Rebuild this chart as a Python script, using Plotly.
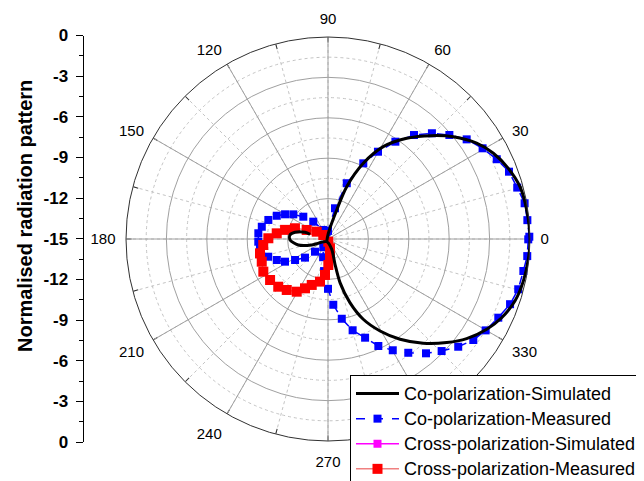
import plotly.graph_objects as go

# ---------------- data ----------------
# Co-polarization simulated (black line), traced in drawing order
co_sim_theta = [165.4, 163.8, 168.5, 174, 181.5, 191.4, 200.2, 244, 290, 285.5, 285.4, 289,
                293.7, 299.5, 305.7, 312.4, 318.9, 324.3, 330.4, 335.6, 341.7, 347.9, 354.2, 360,
                8.3, 15.2, 21.4, 27.4, 32.8, 39.2, 44.9, 52, 59.1, 65, 70.3, 73.3, 87, 244]
co_sim_r = [-13.62, -13.22, -12.5, -12.16, -12.18, -12.75, -13.71, -14.78, -14.2, -13.05, -11.64, -10.0,
            -8.49, -7.15, -5.83, -4.51, -3.3, -2.32, -1.44, -0.84, -0.37, -0.16, -0.05, 0.0,
            -0.09, -0.22, -0.62, -1.17, -1.87, -2.99, -4.13, -5.51, -7.01, -8.8, -10.88, -12.75, -14.58, -14.78]

# Co-polarization measured (blue squares, dashed)
co_meas_theta = [0.65, 5.4, 10.3, 15.2, 20.4, 25.3, 30.4, 35.7, 40.6, 45.5, 50.4, 55.3, 60.2, 65,
                 71.4, 77.2, 90, 103, 117.6, 130.4, 137.9, 144.6, 150.1, 155.6, 162.3, 169.5, 175.3,
                 182.2, 187.8, 196.5, 202.3, 207.8, 212.5, 219, 224.3, 240, 255, 263, 270, 274.6,
                 279.8, 285.1, 290.6, 295.2, 300.2, 305.2, 310.6, 315.4, 320.4, 325.2, 329.9, 335.2,
                 340.3, 345.2, 350.7, 355.1, 359.9]
co_meas_r = [-0.05, -0.13, -0.16, -0.44, -0.66, -1.14, -1.69, -2.32, -3.13, -3.99, -4.98, -6.21, -7.53, -8.8,
             -10.63, -12.66, -14.4, -14.5, -14.24, -13.31, -12.53, -11.84, -11.32, -10.82, -10.35, -10.0, -9.81,
             -9.82, -9.9, -10.37, -10.89, -11.39, -12.1, -12.8, -13.65, -14.3, -13.6, -12.6, -11.3, -10.1,
             -8.99, -7.98, -7.17, -6.22, -5.44, -4.66, -3.82, -3.15, -2.45, -1.86, -1.47, -1.07,
             -0.64, -0.39, -0.3, -0.15, -0.13]

# Cross-polarization simulated (nothing of it is visible inside the plotted range)
cross_sim_theta = [None]
cross_sim_r = [None]

# Cross-polarization measured (red squares)
cross_meas_theta = [139.6, 147, 157, 162, 168, 173.7, 179.3, 185.3, 191.9, 198.9, 206.8, 215.3, 223.8,
                    231, 239.3, 245, 250.5, 259.4, 265.2, 270.7, 276.4, 282, 276]
cross_meas_r = [-14.54, -14.0, -13.28, -12.42, -11.74, -11.17, -10.57, -10.17, -9.84, -9.8, -9.62, -9.73, -9.88,
                -10.13, -10.45, -10.96, -11.38, -11.78, -12.32, -13.07, -13.68, -14.3, -14.8]

series_names = ["Co-polarization-Simulated", "Co-polarization-Measured",
                "Cross-polarization-Simulated", "Cross-polarization-Measured"]

angle_ticks = [0, 30, 60, 90, 120, 150, 180, 210, 240, 270, 300, 330]
angle_labels = [str(a) for a in angle_ticks]
minor_angle_ticks = list(range(0, 360, 15))
radial_major = [-12, -9, -6, -3]
radial_minor = [-13.5, -10.5, -7.5, -4.5, -1.5]
left_tick_vals = [0, 1, 2, 3, 4, 5, 6, 7, 8, 9, 10]
left_tick_text = ["0", "-3", "-6", "-9", "-12", "-15", "-12", "-9", "-6", "-3", "0"]

# ---------------- figure ----------------
# the page body adds an 8 px offset; the figure is sized to fill the rest of the window
OFF = 8
W, H = 644 - OFF, 481 - OFF


def fx(x):  # screen x -> paper fraction
    return (x - OFF) / W


def fy(y):  # screen y -> paper fraction
    return 1 - (y - OFF) / H


cx, cy, R = 328, 239, 202
pdom_x = [fx(cx - R), fx(cx + R)]
pdom_y = [fy(cy + R), fy(cy - R)]


def big(name):
    return '<span style="font-size:18px">' + name + '</span>'


fig = go.Figure()

# helper so the minor-grid polar subplot exists (no data)
fig.add_trace(go.Scatterpolar(r=[], theta=[], subplot="polar", showlegend=False, hoverinfo="skip"))

fig.add_trace(go.Scatterpolar(
    r=co_meas_r, theta=co_meas_theta, subplot="polar2", name=big(series_names[1]),
    mode="lines+markers", line=dict(color="#0000ff", width=1.5, dash="dash"),
    marker=dict(symbol="square", size=8, color="#0000ff"), legendrank=2))

fig.add_trace(go.Scatterpolar(
    r=cross_sim_r, theta=cross_sim_theta, subplot="polar2", name=big(series_names[2]),
    mode="lines+markers", line=dict(color="#ff00ff", width=1.5),
    marker=dict(symbol="square", size=8, color="#ff00ff"), legendrank=3))

fig.add_trace(go.Scatterpolar(
    r=cross_meas_r, theta=cross_meas_theta, subplot="polar2", name=big(series_names[3]),
    mode="lines+markers", line=dict(color="#f08080", width=1.5),
    marker=dict(symbol="square", size=10, color="#ff0000"), legendrank=4))

fig.add_trace(go.Scatterpolar(
    r=co_sim_r, theta=co_sim_theta, subplot="polar2", name=big(series_names[0]),
    mode="lines", line=dict(color="#000000", width=3, shape="spline", smoothing=0.8), legendrank=1))

# dummy cartesian trace for the left scale axis
fig.add_trace(go.Scatter(x=[], y=[], xaxis="x", yaxis="y", showlegend=False, hoverinfo="skip"))

fig.update_layout(
    width=W, height=H,
    margin=dict(l=0, r=0, t=0, b=0, autoexpand=False),
    paper_bgcolor="white", plot_bgcolor="rgba(0,0,0,0)",
    font=dict(family="Arial, Liberation Sans, sans-serif", color="black"),
    polar=dict(
        domain=dict(x=pdom_x, y=pdom_y),
        bgcolor="white",
        radialaxis=dict(range=[-15, 0], tickvals=radial_minor, showticklabels=False, ticks="",
                        showline=False, gridcolor="#c4c4c4", griddash="dot", gridwidth=1),
        angularaxis=dict(rotation=0, direction="counterclockwise", tickvals=minor_angle_ticks,
                         showticklabels=False, ticks="inside", ticklen=5, tickcolor="#303030",
                         gridcolor="#c4c4c4", griddash="dot", gridwidth=1, showline=False),
    ),
    polar2=dict(
        domain=dict(x=pdom_x, y=pdom_y),
        bgcolor="rgba(0,0,0,0)",
        radialaxis=dict(range=[-15, 0], tickvals=radial_major, showticklabels=False, ticks="",
                        showline=False, gridcolor="#a0a0a0", gridwidth=1),
        angularaxis=dict(rotation=0, direction="counterclockwise", tickvals=angle_ticks,
                         ticktext=angle_labels, ticks="outside", ticklen=7,
                         tickcolor="rgba(0,0,0,0)", tickfont=dict(size=15, color="black"),
                         gridcolor="#a0a0a0", gridwidth=1, showline=True, linecolor="#303030",
                         linewidth=1),
    ),
    xaxis=dict(domain=[fx(83.5), fx(84.5)], visible=False, range=[0, 1], fixedrange=True),
    yaxis=dict(anchor="x", side="left", domain=[fy(442), fy(35.5)], range=[0, 10],
               tickvals=left_tick_vals, ticktext=left_tick_text, showline=True, linecolor="black",
               linewidth=1, ticks="outside", ticklen=7, tickcolor="black", showgrid=False,
               zeroline=False, ticklabelstandoff=4,
               tickfont=dict(size=17, color="black", family="Arial, Liberation Sans", weight="bold"),
               minor=dict(tick0=0.5, dtick=1, ticks="outside", ticklen=4, tickcolor="black"),
               fixedrange=True),
    legend=dict(x=fx(350), y=fy(375), xanchor="left", yanchor="top",
                bgcolor="white", bordercolor="black", borderwidth=1,
                font=dict(size=17, color="black"), itemwidth=43, tracegroupgap=0),
    annotations=[dict(text="<b>Normalised radiation pattern</b>", x=fx(24.5), y=fy(216.5),
                      xref="paper", yref="paper", showarrow=False, textangle=-90,
                      font=dict(size=20, color="black"), xanchor="center", yanchor="middle")],
)

fig.write_html("out.html")
